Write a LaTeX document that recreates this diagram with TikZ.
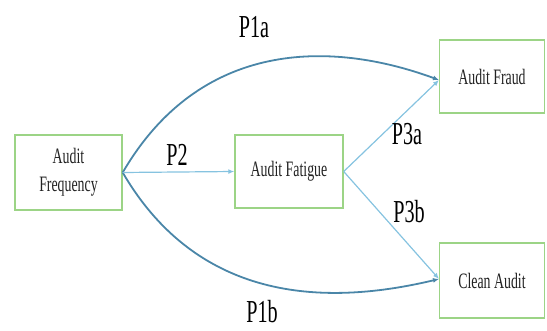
\documentclass[tikz,border=0pt]{standalone}
\usepackage{fontspec}
\setmainfont{Liberation Serif}[FakeStretch=0.63]
\usetikzlibrary{arrows.meta}
\definecolor{boxgreen}{HTML}{9CD486}
\definecolor{curveblue}{HTML}{4A86A8}
\definecolor{lineblue}{HTML}{86C3E0}
\definecolor{textgray}{HTML}{222222}
\tikzset{
  box/.style={draw=boxgreen, line width=1.4pt, fill=white, text=textgray, align=center,
    font=\fontsize{22}{28}\selectfont, inner sep=0pt},
  curvearrow/.style={draw=curveblue, line width=1.8pt, -{Latex[length=6pt,width=5pt]}},
  linearrow/.style={draw=lineblue, line width=1.2pt, -{Latex[length=6pt,width=5pt]}},
  plabel/.style={font=\fontsize{32}{34}\selectfont, text=black}
}
\begin{document}
\begin{tikzpicture}[x=1pt,y=-1pt]
\useasboundingbox (0,0) rectangle (547,331);
\node[box, minimum width=107pt, minimum height=75pt] (freq) at (68.5,172.5) {Audit\\Frequency};
\node[box, minimum width=108pt, minimum height=73pt] (fat) at (289,171.5) {Audit Fatigue};
\node[box, minimum width=105pt, minimum height=73pt] (fraud) at (492,76.5) {Audit Fraud};
\node[box, minimum width=105pt, minimum height=75pt] (clean) at (492,280.5) {Clean Audit};
\coordinate (fraudin) at (439,80);
\coordinate (cleanin) at (439,279);
\draw[curvearrow] (freq.east) .. controls (200,40) and (330,40) .. (fraudin);
\draw[curvearrow] (freq.east) .. controls (200,305) and (330,305) .. (cleanin);
\draw[linearrow] (freq.east) -- (fat.west);
\draw[linearrow] (fat.east) -- (fraudin);
\draw[linearrow] (fat.east) -- (cleanin);
\node[plabel] (p1a) at (254,27) {P1a};
\node[plabel] (p2) at (177,155) {P2};
\node[plabel] (p3a) at (407,134) {P3a};
\node[plabel] (p3b) at (409,212) {P3b};
\node[plabel] (p1b) at (262,312) {P1b};
\end{tikzpicture}
\end{document}
